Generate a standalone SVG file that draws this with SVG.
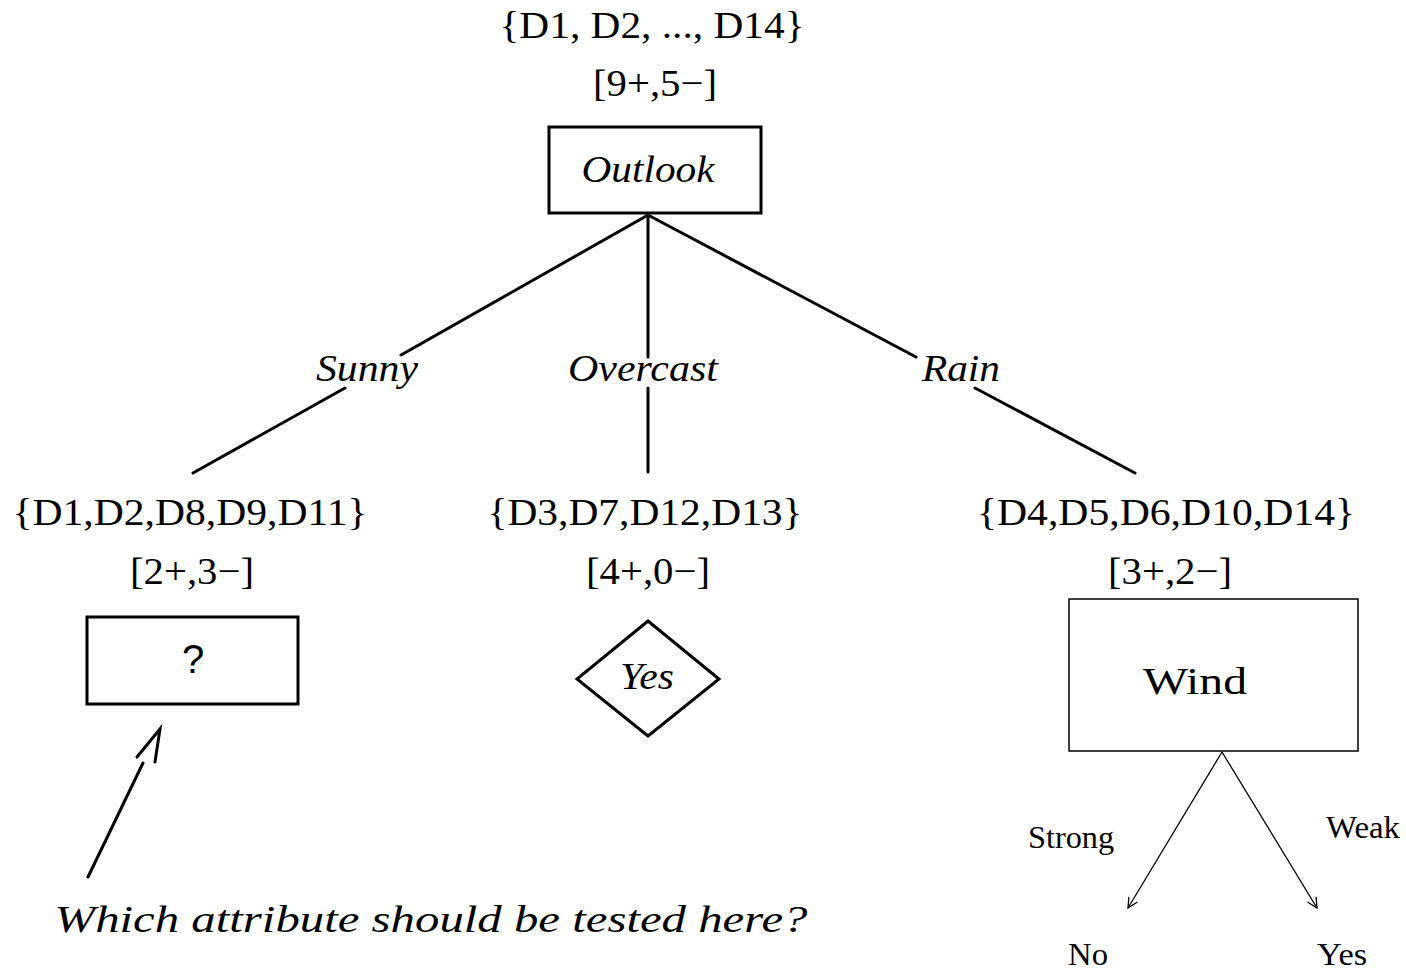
<svg xmlns="http://www.w3.org/2000/svg" width="1406" height="972" viewBox="0 0 1406 972">
<defs>
<style>
.t{font-family:"Liberation Serif","Times New Roman",serif;font-size:38px;fill:#000;text-anchor:middle}
.i{font-family:"Liberation Serif","Times New Roman",serif;font-style:italic;font-size:38px;fill:#000;text-anchor:middle}
.s{font-family:"Liberation Serif","Times New Roman",serif;font-size:32px;fill:#000;text-anchor:middle}
.box{fill:#fff;stroke:#000;stroke-width:3}
.thin{fill:#fff;stroke:#000;stroke-width:1.5}
.edge{stroke:#000;stroke-width:3;fill:none;stroke-linecap:round}
.fine{stroke:#000;stroke-width:1.3;fill:none}
</style>
<marker id="open" markerWidth="14" markerHeight="14" refX="12" refY="7" orient="auto" markerUnits="userSpaceOnUse">
<path d="M2,2 L12,7 L2,12" fill="none" stroke="#000" stroke-width="1.3"/>
</marker>
</defs>
<rect width="1406" height="972" fill="#fff"/>

<g id="connectors">
<line class="edge" x1="648" y1="215" x2="401" y2="355"/>
<line class="edge" x1="345" y1="388" x2="193" y2="473"/>
<line class="edge" x1="648" y1="215" x2="648" y2="357"/>
<line class="edge" x1="648" y1="388" x2="648" y2="472"/>
<line class="edge" x1="648" y1="215" x2="916" y2="357"/>
<line class="edge" x1="975" y1="388" x2="1135" y2="473"/>
<line class="fine" x1="1222" y1="752" x2="1128" y2="908" marker-end="url(#open)"/>
<line class="fine" x1="1222" y1="752" x2="1317" y2="908" marker-end="url(#open)"/>
<line class="edge" x1="88" y1="877" x2="143" y2="763"/>
<polyline class="edge" points="137,757 160,729 155,762"/>
<text class="i" x="367" y="381" textLength="102" lengthAdjust="spacingAndGlyphs">Sunny</text>
<text class="i" x="643" y="381" textLength="150" lengthAdjust="spacingAndGlyphs">Overcast</text>
<text class="i" x="961" y="381" textLength="78" lengthAdjust="spacingAndGlyphs">Rain</text>
<text class="s" x="1071" y="848" textLength="86" lengthAdjust="spacingAndGlyphs">Strong</text>
<text class="s" x="1363" y="838" textLength="74" lengthAdjust="spacingAndGlyphs">Weak</text>
</g>

<g id="root">
<text class="t" x="652" y="38" textLength="305" lengthAdjust="spacingAndGlyphs">{D1, D2, ..., D14}</text>
<text class="t" x="655" y="96" textLength="124" lengthAdjust="spacingAndGlyphs">[9+,5−]</text>
<rect class="box" x="549" y="127" width="212" height="86"/>
<text class="i" x="648" y="182" textLength="133" lengthAdjust="spacingAndGlyphs">Outlook</text>
</g>

<g id="sunny-node">
<text class="t" x="190" y="525" textLength="355" lengthAdjust="spacingAndGlyphs">{D1,D2,D8,D9,D11}</text>
<text class="t" x="192" y="584" textLength="124" lengthAdjust="spacingAndGlyphs">[2+,3−]</text>
<rect class="box" x="87" y="617" width="211" height="87"/>
<text x="193" y="673" font-family="'Liberation Sans',Arial,sans-serif" font-size="40" text-anchor="middle">?</text>
</g>

<g id="overcast-node">
<text class="t" x="645" y="525" textLength="315" lengthAdjust="spacingAndGlyphs">{D3,D7,D12,D13}</text>
<text class="t" x="648" y="584" textLength="124" lengthAdjust="spacingAndGlyphs">[4+,0−]</text>
<polygon class="box" points="648,621 719,679 648,736 577,679"/>
<text class="i" x="647" y="689" font-size="30" textLength="54" lengthAdjust="spacingAndGlyphs">Yes</text>
</g>

<g id="rain-node">
<text class="t" x="1166" y="525" textLength="378" lengthAdjust="spacingAndGlyphs">{D4,D5,D6,D10,D14}</text>
<text class="t" x="1170" y="584" textLength="124" lengthAdjust="spacingAndGlyphs">[3+,2−]</text>
<rect class="thin" x="1069" y="599" width="289" height="152"/>
<text class="t" x="1195" y="694" font-size="50" textLength="104" lengthAdjust="spacingAndGlyphs">Wind</text>
</g>

<g id="leaf-no">
<text class="s" x="1088" y="965" font-size="31" textLength="40" lengthAdjust="spacingAndGlyphs">No</text>
</g>
<g id="leaf-yes">
<text class="s" x="1342" y="965" font-size="31" textLength="50" lengthAdjust="spacingAndGlyphs">Yes</text>
</g>

<g id="question">
<text class="i" x="431" y="932" font-size="37" textLength="753" lengthAdjust="spacingAndGlyphs">Which attribute should be tested here?</text>
</g>
</svg>
